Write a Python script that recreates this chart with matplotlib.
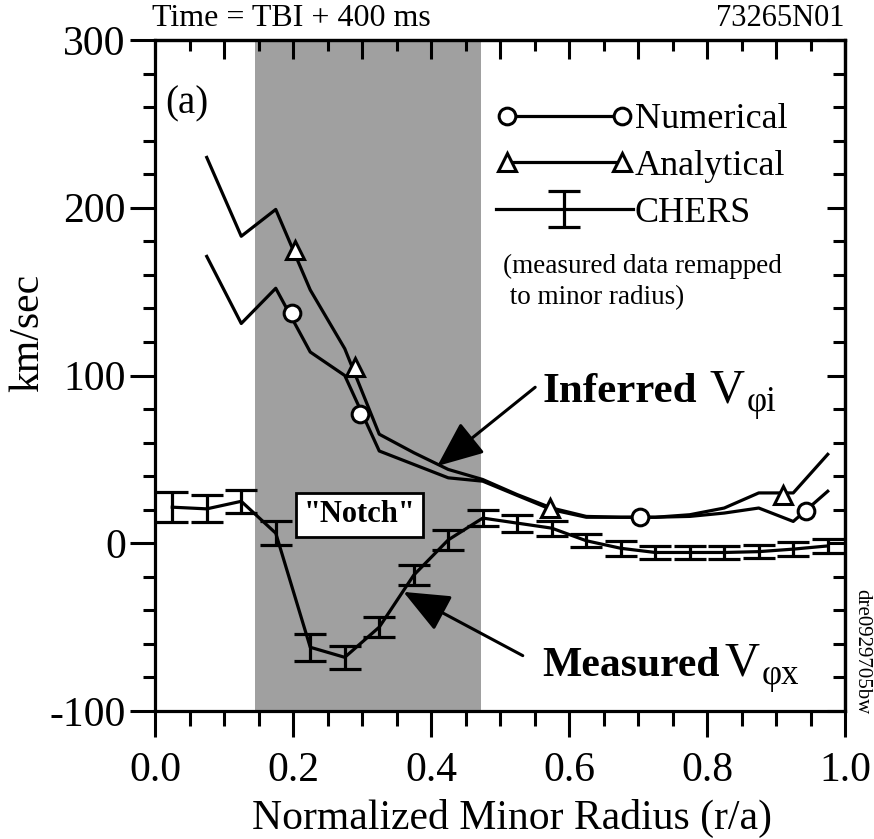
import matplotlib
matplotlib.use('Agg')
import matplotlib.pyplot as plt
from matplotlib.ticker import MultipleLocator, FixedLocator
from matplotlib.lines import Line2D
from matplotlib.legend_handler import HandlerErrorbar
from matplotlib.container import ErrorbarContainer

plt.rcParams['font.family'] = ['Liberation Serif', 'DejaVu Serif']

# ---------------- data ----------------
chers_r = [0.025, 0.075, 0.125, 0.175, 0.225, 0.275, 0.325, 0.375, 0.425, 0.475,
           0.525, 0.575, 0.625, 0.675, 0.725, 0.775, 0.825, 0.875, 0.925, 0.975]
chers_v = [21.5, 20.5, 25, 6, -62, -68, -50, -19, 2, 15,
           12, 9, 1.5, -3, -5.5, -5.5, -5.5, -5, -3.5, -1.6]
chers_err = [9, 8, 7, 7, 8, 7, 6, 6, 6, 5,
             5, 4.5, 4, 4.5, 4, 4, 4, 4, 4, 4]

model_r = [0.075, 0.125, 0.175, 0.225, 0.275, 0.325, 0.375, 0.425, 0.475, 0.525,
           0.575, 0.625, 0.675, 0.725, 0.775, 0.825, 0.875, 0.925, 0.975]
numerical_v = [171, 131, 152, 114, 100, 55, 47, 39, 37, 28.5,
               20, 15.5, 15.5, 15.5, 16, 18, 21, 13, 31]
analytical_v = [230, 183, 199, 151, 116, 65, 54, 44, 38, 29,
                21, 16, 15.5, 15.5, 17, 21, 30, 30, 53]

num_mark_r = [0.198, 0.297, 0.703, 0.943]
num_mark_v = [137, 77, 15.5, 19]
ana_mark_r = [0.203, 0.290, 0.572, 0.910]
ana_mark_v = [175, 105, 21, 29]

notch_range = (0.145, 0.472)

x_ticks = [0.0, 0.2, 0.4, 0.6, 0.8, 1.0]
x_ticklabels = ['0.0', '0.2', '0.4', '0.6', '0.8', '1.0']
y_ticks = [-100, 0, 100, 200, 300]
y_ticklabels = ['-100', '0', '100', '200', '300']

# ---------------- figure ----------------
fig = plt.figure(figsize=(8.74, 8.39), dpi=100)
ax = fig.add_axes([155/874, 1-711/839, 690/874, 671/839])

ax.set_xlim(0, 1)
ax.set_ylim(-100, 300)

ax.axvspan(notch_range[0], notch_range[1], color='#a0a0a0', lw=0, zorder=0)

LW = 2.3
ax.plot(model_r, numerical_v, color='black', lw=LW, zorder=3)
ax.plot(model_r, analytical_v, color='black', lw=LW, zorder=3)
ax.plot(num_mark_r, num_mark_v, 'o', ms=12, mfc='white', mec='black', mew=2.2, zorder=4)
ax.plot(ana_mark_r, ana_mark_v, '^', ms=13, mfc='white', mec='black', mew=2.2, zorder=4)
eb = ax.errorbar(chers_r, chers_v, yerr=chers_err, color='black', lw=LW,
                 elinewidth=LW, capsize=11.5, capthick=LW, zorder=3, label='CHERS')

# legend
h_num = Line2D([0], [0], color='black', lw=LW, marker='o', ms=12, mfc='white',
               mec='black', mew=2.2)
h_ana = Line2D([0], [0], color='black', lw=LW, marker='^', ms=13, mfc='white',
               mec='black', mew=2.2)
leg = ax.legend([h_num, h_ana, eb], ['Numerical', 'Analytical', 'CHERS'],
                loc='upper left', bbox_to_anchor=(0.494, 0.906), frameon=False,
                fontsize=26, numpoints=2, handlelength=3.8, handletextpad=0.05,
                labelspacing=0.37, borderpad=0, borderaxespad=0,
                handler_map={ErrorbarContainer: HandlerErrorbar(numpoints=1)})
ax.text(0.505, 0.681, '(measured data remapped\n to minor radius)',
        transform=ax.transAxes, fontsize=19.5, va='top', ha='left',
        linespacing=1.3)

# annotations
ax.text(0.046, 262, '(a)', fontsize=28, ha='center', va='center')

ax.text(0.562, 84, 'Inferred', fontsize=31, fontweight='bold', ha='left', va='baseline')
ax.text(0.804, 84, 'V', fontsize=35, ha='left', va='baseline')
ax.text(0.858, 79, 'φi', fontsize=25, ha='left', va='baseline')

ax.text(0.561, -79, 'Measured', fontsize=30, fontweight='bold', ha='left', va='baseline')
ax.text(0.825, -79, 'V', fontsize=35, ha='left', va='baseline')
ax.text(0.879, -84, 'φx', fontsize=25, ha='left', va='baseline')

ax.text(0.297, 17, '"Notch"', fontsize=22, fontweight='bold', ha='center',
        va='center', zorder=6,
        bbox=dict(boxstyle='square,pad=0.25', fc='white', ec='black', lw=2))

arrow_kw = dict(arrowstyle='-|>,head_length=1.3,head_width=0.55', lw=2.2,
                color='black', mutation_scale=22, shrinkA=0, shrinkB=0)
ax.annotate('', xy=(0.409, 46), xytext=(0.551, 93), arrowprops=arrow_kw, zorder=7)
ax.annotate('', xy=(0.360, -29), xytext=(0.533, -67), arrowprops=arrow_kw, zorder=7)

# ticks
ax.xaxis.set_major_locator(FixedLocator(x_ticks))
ax.set_xticklabels(x_ticklabels)
ax.xaxis.set_minor_locator(MultipleLocator(0.05))
ax.yaxis.set_major_locator(FixedLocator(y_ticks))
ax.set_yticklabels(y_ticklabels)
ax.yaxis.set_minor_locator(MultipleLocator(20))

for s in ax.spines.values():
    s.set_linewidth(2.3)

ax.tick_params(axis='x', which='both', bottom=True, top=False, direction='out',
               labelsize=30, width=2.2, pad=10)
ax.tick_params(axis='x', which='major', length=19)
ax.tick_params(axis='x', which='minor', length=11)
ax.tick_params(axis='y', which='both', left=True, right=False, direction='out',
               labelsize=30, width=2.2, pad=3)
ax.tick_params(axis='y', which='major', length=18)
ax.tick_params(axis='y', which='minor', length=9)

# inward ticks on top and right
secx = ax.secondary_xaxis('top')
secx.xaxis.set_major_locator(MultipleLocator(0.1))
secx.xaxis.set_minor_locator(MultipleLocator(0.05))
secx.tick_params(which='both', direction='in', width=2.2, labeltop=False)
secx.tick_params(which='major', length=14)
secx.tick_params(which='minor', length=8)
secx.spines['top'].set_linewidth(2.3)
secy = ax.secondary_yaxis('right')
secy.yaxis.set_major_locator(MultipleLocator(100))
secy.yaxis.set_minor_locator(MultipleLocator(20))
secy.tick_params(which='both', direction='in', width=2.2, labelright=False)
secy.tick_params(which='major', length=13)
secy.tick_params(which='minor', length=9)
secy.spines['right'].set_linewidth(2.3)

# labels
fig.text(28/874, 1-333/839, 'km/sec', rotation=90, fontsize=30, ha='center', va='center')
fig.text(512/874, 1-818/839, 'Normalized Minor Radius (r/a)', fontsize=30,
         ha='center', va='center')
fig.text(152/874, 1-18/839, 'Time = TBI + 400 ms', fontsize=23, ha='left', va='center')
fig.text(845/874, 1-18/839, '73265N01', fontsize=22, ha='right', va='center')
fig.text(862/874, 1-652/839, 'dre0929705bw', fontsize=15, rotation=-90,
         ha='center', va='center')

fig.savefig('out.png', dpi=100)
